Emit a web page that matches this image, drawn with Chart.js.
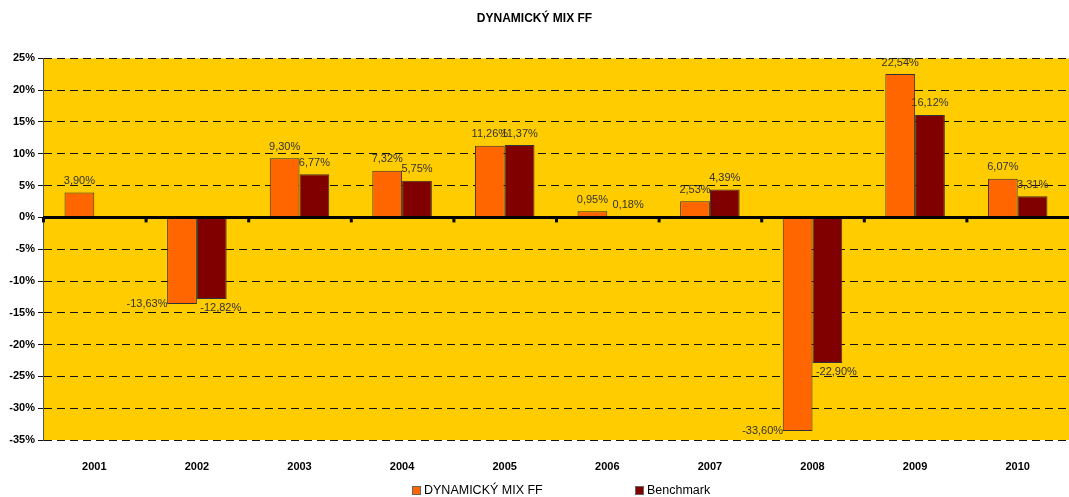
<!DOCTYPE html>
<html>
<head>
<meta charset="utf-8">
<script src="https://cdn.jsdelivr.net/npm/chart.js@4"></script>
<style>
  html, body { margin: 0; padding: 0; background: #fff; }
  #wrap { width: 1069px; height: 497px; }
</style>
</head>
<body>
<div id="wrap"><canvas id="mixChart" width="1069" height="497"></canvas></div>
<script>
// values (percent)
const years = ['2001', '2002', '2003', '2004', '2005', '2006', '2007', '2008', '2009', '2010'];
const fundValues = [3.90, -13.63, 9.30, 7.32, 11.26, 0.95, 2.53, -33.60, 22.54, 6.07];
const benchValues = [null, -12.82, 6.77, 5.75, 11.37, 0.18, 4.39, -22.90, 16.12, 3.31];
const yTicks = [25, 20, 15, 10, 5, 0, -5, -10, -15, -20, -25, -30, -35];

const font = '"Liberation Sans", Arial, sans-serif';

function pct(v) {
    return v.toFixed(2).replace('.', ',') + '%';
}

// yellow plot background
const plotBg = {
    id: 'plotBg',
    beforeDraw(chart) {
        const a = chart.chartArea;
        const c = chart.ctx;
        c.save();
        c.fillStyle = '#FFCC00';
        c.fillRect(a.left, a.top, a.right - a.left, a.bottom - a.top);
        c.restore();
    }
};

// thick zero line with small ticks at the category boundaries
const zeroLine = {
    id: 'zeroLine',
    afterDatasetsDraw(chart) {
        const c = chart.ctx;
        const a = chart.chartArea;
        const y0 = chart.scales.y.getPixelForValue(0);
        const step = (a.right - a.left) / years.length;
        c.save();
        c.strokeStyle = '#000';
        c.lineWidth = 3;
        c.beginPath();
        c.moveTo(a.left, y0);
        c.lineTo(a.right, y0);
        c.stroke();
        c.fillStyle = '#000';
        for (let i = 0; i < years.length; i++) {
            c.fillRect(a.left + i * step - 1, y0, 3, 5);
        }
        c.restore();
    }
};

// value labels in the Excel style
const valueLabels = {
    id: 'valueLabels',
    afterDatasetsDraw(chart) {
        const c = chart.ctx;
        c.save();
        c.font = '11px ' + font;
        c.fillStyle = '#333';
        c.textAlign = 'center';
        chart.data.datasets.forEach((ds, di) => {
            chart.getDatasetMeta(di).data.forEach((bar, i) => {
                const v = ds.data[i];
                if (v === null) return;
                let x = bar.x, y;
                if (v >= 0) {
                    y = bar.y - 6;
                    c.textBaseline = 'bottom';
                } else {
                    c.textBaseline = 'middle';
                    if (di === 0) { x = bar.x - 35; y = bar.y; }
                    else { x = bar.x + 9; y = bar.y + 9; }
                }
                if (di === 1 && v >= 0 && v < 1) { x = bar.x + 6; }
                c.fillText(pct(v), x, y);
            });
        });
        c.restore();
    }
};

// legend drawn by hand so the two entries sit far apart on one row
const bottomLegend = {
    id: 'bottomLegend',
    afterDraw(chart) {
        const c = chart.ctx;
        const items = [
            { x: 412, label: chart.data.datasets[0].label, color: chart.data.datasets[0].backgroundColor },
            { x: 635, label: chart.data.datasets[1].label, color: chart.data.datasets[1].backgroundColor }
        ];
        const y = 491;
        c.save();
        c.font = '12.5px ' + font;
        c.textBaseline = 'middle';
        c.textAlign = 'left';
        items.forEach(it => {
            c.fillStyle = it.color;
            c.fillRect(it.x, y - 5, 9, 9);
            c.strokeStyle = '#666';
            c.lineWidth = 1;
            c.strokeRect(it.x + 0.5, y - 4.5, 8, 8);
            c.fillStyle = '#000';
            c.fillText(it.label, it.x + 12, y);
        });
        c.restore();
    }
};

const ctx = document.getElementById('mixChart').getContext('2d');
const mixChart = new Chart(ctx, {
    type: 'bar',
    data: {
        labels: years,
        datasets: [{
            label: 'DYNAMICKÝ MIX FF',
            data: fundValues,
            backgroundColor: '#FF6600',
            borderColor: '#333',
            borderWidth: 1,
            borderSkipped: false
        }, {
            label: 'Benchmark',
            data: benchValues,
            backgroundColor: '#800000',
            borderColor: '#333',
            borderWidth: 1,
            borderSkipped: false
        }]
    },
    options: {
        responsive: false,
        animation: false,
        layout: { padding: { top: 0, right: 0, left: 0, bottom: 25 } },
        datasets: {
            bar: { categoryPercentage: 0.58, barPercentage: 1.0 }
        },
        scales: {
            x: {
                grid: { display: false },
                border: { display: false },
                ticks: {
                    color: '#000',
                    font: { family: font, size: 11, weight: 'bold' },
                    padding: 12
                },
                afterFit(scale) { scale.height = 32; }
            },
            y: {
                min: -35,
                max: 25,
                afterBuildTicks(scale) {
                    scale.ticks = yTicks.map(v => ({ value: v }));
                },
                grid: {
                    color: '#111',
                    lineWidth: 1,
                    tickLength: 5
                },
                border: { display: true, color: '#555', width: 1, dash: [8, 5] },
                ticks: {
                    color: '#000',
                    font: { family: font, size: 11, weight: 'bold' },
                    padding: 3,
                    callback: v => v + '%'
                },
                afterFit(scale) { scale.width = 43; }
            }
        },
        plugins: {
            title: {
                display: true,
                text: 'DYNAMICKÝ MIX FF',
                color: '#000',
                font: { family: font, size: 12, weight: 'bold' },
                padding: { top: 11, bottom: 33 }
            },
            legend: { display: false },
            tooltip: { enabled: false }
        }
    },
    plugins: [plotBg, zeroLine, valueLabels, bottomLegend]
});
</script>
</body>
</html>
